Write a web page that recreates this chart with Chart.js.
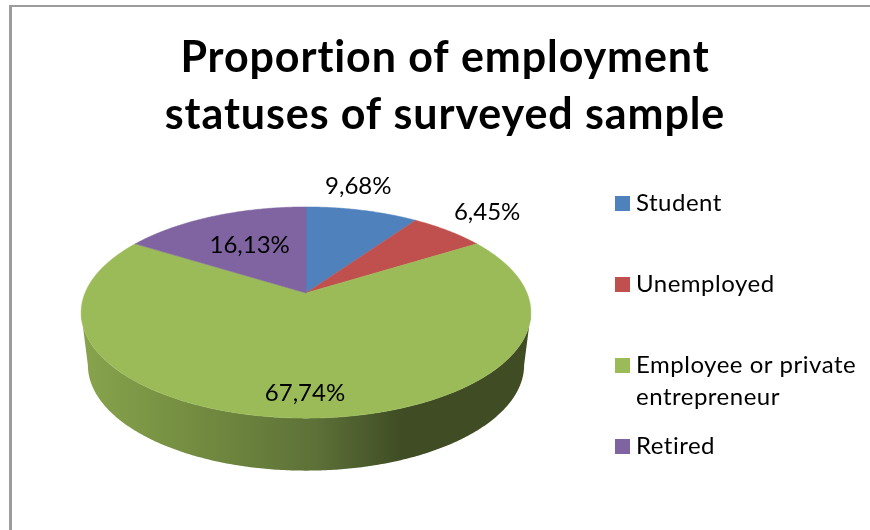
<!doctype html>
<html lang="en">
  <head>
    <meta charset="utf-8">
    <title>Employment statuses</title>
    <script src="https://cdn.jsdelivr.net/npm/chart.js"></script>
    <style>
      html, body { margin: 0; height: 100%; overflow: hidden; background: #fff; }
      #frame {
        position: absolute; left: 9px; top: 5px;
        width: 866px; height: 530px;
        border-left: 3px solid #9c9c9c; border-top: 2px solid #9c9c9c;
      }
    </style>
  </head>
  <body>
    <div id="frame"><canvas id="myChart" width="866" height="526"></canvas></div>

    <script>
    const categories = ['Student', 'Unemployed', ['Employee or private', 'entrepreneur'], 'Retired'];
    const shares = [9.68, 6.45, 67.74, 16.13];
    const colors = ['#4f81bd', '#c0504d', '#9bbb59', '#8064a2'];
    const titleLines = ['Proportion of employment', 'statuses of surveyed sample'];

    // tilted disc: half axes on screen and how strongly the near side grows
    const RX = 221, RY = 102, TILT = 0.1848;
    const DEPTH = 52.5, BASE_SCALE = 0.97;
    const FONT = 'Lato, "Liberation Sans", sans-serif';

    // label shift from the middle of each slice's outer edge
    const labelShift = [[-4, -24], [39, -18], [-1, -25], [36, 29]];

    function rimPoint(arc, angle) {
        const u = Math.cos(angle), v = Math.sin(angle);
        const s = 1 / (1 - TILT * v);
        return [arc.x + RX * u * s, arc.y + RY * v * s];
    }

    function basePoint(arc, angle) {
        const p = rimPoint(arc, angle);
        return [arc.x + (p[0] - arc.x) * BASE_SCALE, p[1] + DEPTH];
    }

    function tracePoints(ctx, arc, pointAt, from, to) {
        const steps = Math.ceil(Math.abs(to - from) / 0.01);
        for (let i = 0; i <= steps; i++) {
            const p = pointAt(arc, from + (to - from) * i / steps);
            ctx.lineTo(p[0], p[1]);
        }
    }

    const tiltedPie = {
        id: 'tiltedPie',
        afterLayout(chart) {
            // the pie sits left of the legend, the title stays centred on the whole chart
            chart.titleBlock.left = 0;
            chart.titleBlock.right = chart.width;
        },
        beforeDraw(chart) {
            // a little tracking for the title, also keeps "ti" from joining up
            chart.ctx.letterSpacing = '0.9px';
        },
        beforeDatasetsDraw(chart) {
            const ctx = chart.ctx;
            const arcs = chart.getDatasetMeta(0).data;
            const c = arcs[0];

            // side wall, only the big slice faces the viewer.
            // runs between the two points where the rim is widest
            const wall = arcs[2];
            const edge = Math.asin(TILT);
            const wallFrom = Math.max(wall.startAngle, edge);
            const wallTo = Math.min(wall.endAngle, Math.PI - edge);
            const shade = ctx.createLinearGradient(c.x - RX, 0, c.x + RX, 0);
            shade.addColorStop(0, '#86a34c');
            shade.addColorStop(0.28, '#71893f');
            shade.addColorStop(0.52, '#5d7138');
            shade.addColorStop(0.72, '#3f4c24');
            shade.addColorStop(1, '#3f4c24');
            ctx.save();
            ctx.letterSpacing = '0px';
            ctx.fillStyle = shade;
            ctx.beginPath();
            tracePoints(ctx, wall, rimPoint, wallFrom, wallTo);
            tracePoints(ctx, wall, basePoint, wallTo, wallFrom);
            ctx.closePath();
            ctx.fill();

            // top faces
            arcs.forEach((arc, i) => {
                ctx.fillStyle = colors[i];
                ctx.strokeStyle = colors[i];
                ctx.lineWidth = 0.5;
                ctx.beginPath();
                ctx.moveTo(arc.x, arc.y);
                tracePoints(ctx, arc, rimPoint, arc.startAngle, arc.endAngle);
                ctx.closePath();
                ctx.fill();
                ctx.stroke();
            });

            // value labels
            ctx.fillStyle = '#000';
            ctx.font = '24px ' + FONT;
            ctx.textAlign = 'center';
            ctx.textBaseline = 'middle';
            arcs.forEach((arc, i) => {
                const p = rimPoint(arc, (arc.startAngle + arc.endAngle) / 2);
                const text = shares[i].toFixed(2).replace('.', ',') + '%';
                ctx.fillText(text, p[0] + labelShift[i][0], p[1] + labelShift[i][1]);
            });

            // legend, rows keep an even pitch even when a label wraps
            const legendX = 603, legendTop = 189, rowPitch = 81;
            ctx.textAlign = 'left';
            ctx.letterSpacing = '0.5px';
            categories.forEach((name, i) => {
                const y = legendTop + i * rowPitch;
                ctx.fillStyle = colors[i];
                ctx.fillRect(legendX, y, 15, 15);
                ctx.fillStyle = '#000';
                [].concat(name).forEach((line, n) => {
                    ctx.fillText(line, legendX + 21, y + 7 + n * 32);
                });
            });
            ctx.restore();
            return false;
        }
    };

    new Chart(document.getElementById('myChart'), {
        type: 'pie',
        data: {
            labels: categories,
            datasets: [{ data: shares, backgroundColor: colors, borderWidth: 0 }]
        },
        options: {
            responsive: false,
            animation: false,
            layout: { padding: { left: 0, right: 278, top: 0, bottom: 91 } },
            plugins: {
                legend: { display: false },
                tooltip: { enabled: false },
                title: {
                    display: true,
                    text: titleLines,
                    color: '#000',
                    font: { family: FONT, size: 43, weight: 'bold', lineHeight: 1.326 },
                    padding: { top: 23, bottom: 0 }
                }
            }
        },
        plugins: [tiltedPie]
    });
    </script>
  </body>
</html>
